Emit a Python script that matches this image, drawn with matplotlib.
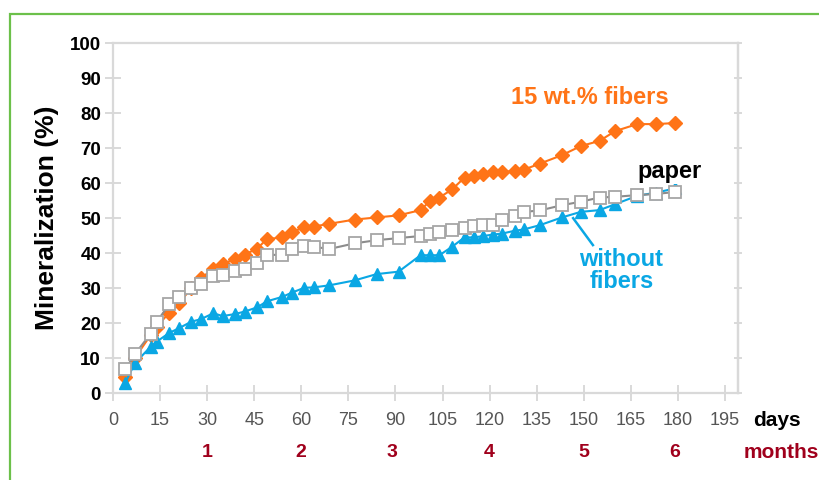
import matplotlib
matplotlib.use("Agg")
import matplotlib.pyplot as plt
import matplotlib.transforms as mtransforms
from matplotlib.patches import Rectangle

plt.rcParams['font.family'] = ['Liberation Sans', 'DejaVu Sans']

# sampling days (shared by the three series)
days = [4, 7, 12, 14, 18, 21, 25, 28, 32, 35, 39, 42, 46, 49, 54, 57, 61, 64, 69, 77,
        84, 91, 98, 101, 104, 108, 112, 115, 118, 121, 124, 128, 131, 136, 143, 149,
        155, 160, 167, 173, 179]

# mineralization (%)
fibers15 = [4.7, 10, 16.5, 19, 23, 25.6, 30, 32.8, 35.5, 37, 38.2, 39.6, 41.3, 44, 44.5,
            46, 47.4, 47.6, 48.4, 49.6, 50.2, 50.8, 52.3, 54.9, 55.9, 58.2, 61.6, 62, 62.5,
            63.2, 63.2, 63.5, 63.9, 65.6, 68, 70.6, 72.1, 74.9, 76.9, 76.9, 77.2]
paper = [6.8, 11.1, 16.9, 20.4, 25.4, 27.5, 29.9, 31.3, 33.4, 33.7, 34.9, 35.6, 37.3, 39.6,
         39.4, 41.1, 41.9, 41.8, 41.2, 42.8, 43.7, 44.3, 44.9, 45.6, 46.1, 46.6, 47.3, 47.7,
         48, 48, 49.4, 50.6, 51.8, 52.2, 53.7, 54.7, 55.9, 56.1, 56.6, 56.9, 57.5]
no_fibers = [3, 8.5, 13.2, 14.7, 17.2, 18.5, 20.4, 21.1, 22.8, 22, 22.6, 23.3, 24.5, 26.2,
             27.5, 28.7, 30.1, 30.2, 30.8, 32.2, 34, 34.7, 39.4, 39.4, 39.4, 41.8, 44.5, 44.5,
             44.9, 45.3, 45.6, 46.4, 46.8, 48, 50.2, 51.8, 52.3, 54, 56.4, 57.3, 58.5]

day_ticks = list(range(0, 196, 15))
month_pos = [30, 60, 89, 120, 150, 179]
month_lbl = ['1', '2', '3', '4', '5', '6']

orange = '#ff7417'
blue = '#0aa7e4'
spine = '#d9d9d9'
darkred = '#a0001c'

fig = plt.figure(figsize=(8.2, 4.8), dpi=100)
ax = fig.add_axes([0.1376, 0.18125, 0.762, 0.7285])

# green frame around the figure
fig.add_artist(Rectangle((10 / 820, -0.1), 1.2, 1.1 - 14 / 480, transform=fig.transFigure,
                         fill=False, edgecolor='#6cc04a', lw=1.6, clip_on=False))

ax.plot(days, fibers15, color=orange, lw=1.5, marker='D', ms=6.8, mec=orange, zorder=3)
ax.plot(days, no_fibers, color=blue, lw=1.5, marker='^', ms=8.5, mec=blue, zorder=4)
ax.plot(days, paper, color='#8c8c8c', lw=1.5, marker='s', ms=8.3, mfc='white',
        mec='#a6a6a6', mew=1.3, zorder=5)

ax.set_xlim(0, 199)
ax.set_ylim(0, 100)
ax.set_xticks(day_ticks)
ax.set_yticks(range(0, 101, 10))

for s in ax.spines.values():
    s.set_color(spine)
    s.set_linewidth(1.6)

ax.tick_params(axis='both', direction='inout', length=11, width=1.4, color=spine)
ax.tick_params(axis='y', pad=3, labelsize=13.5, labelcolor='black')
ax.tick_params(axis='x', pad=8, labelsize=13, labelcolor='#555555')
for lab in ax.get_yticklabels():
    lab.set_fontweight('bold')
for lab in ax.get_xticklabels():
    lab.set_stretch('condensed')

right = ax.secondary_yaxis('right')
right.set_yticks(range(0, 101, 10))
right.tick_params(direction='inout', length=6, width=1.4, color=spine, labelright=False)
right.spines['right'].set_color(spine)
right.spines['right'].set_linewidth(1.6)

ax.set_ylabel('Mineralization (%)', fontsize=19, fontweight='bold', labelpad=8)

trans = mtransforms.blended_transform_factory(ax.transData, ax.transAxes)
ax.text(211.5, -0.078, 'days', transform=trans, ha='center', va='center',
        fontsize=15, fontweight='bold', color='black', clip_on=False)
for x, t in zip(month_pos, month_lbl):
    ax.text(x, -0.171, t, transform=trans, ha='center', va='center',
            fontsize=14, fontweight='bold', color=darkred, clip_on=False)
ax.text(213, -0.171, 'months', transform=trans, ha='center', va='center',
        fontsize=15, fontweight='bold', color=darkred, clip_on=False)

ax.text(152, 84.6, '15 wt.% fibers', ha='center', va='center', fontsize=17,
        fontweight='bold', color=orange, zorder=6)
ax.text(177.4, 63.4, 'paper', ha='center', va='center', fontsize=17, fontweight='bold',
        color='black', zorder=6,
        bbox=dict(boxstyle='square,pad=0.05', fc='white', ec='none'))
ax.text(162, 35.1, 'without\nfibers', ha='center', va='center', fontsize=17,
        fontweight='bold', color=blue, linespacing=0.95, zorder=6)
ax.plot([146.6, 152.9], [50, 42.3], color=blue, lw=1.8, zorder=6)

fig.savefig('out.png', dpi=100)
